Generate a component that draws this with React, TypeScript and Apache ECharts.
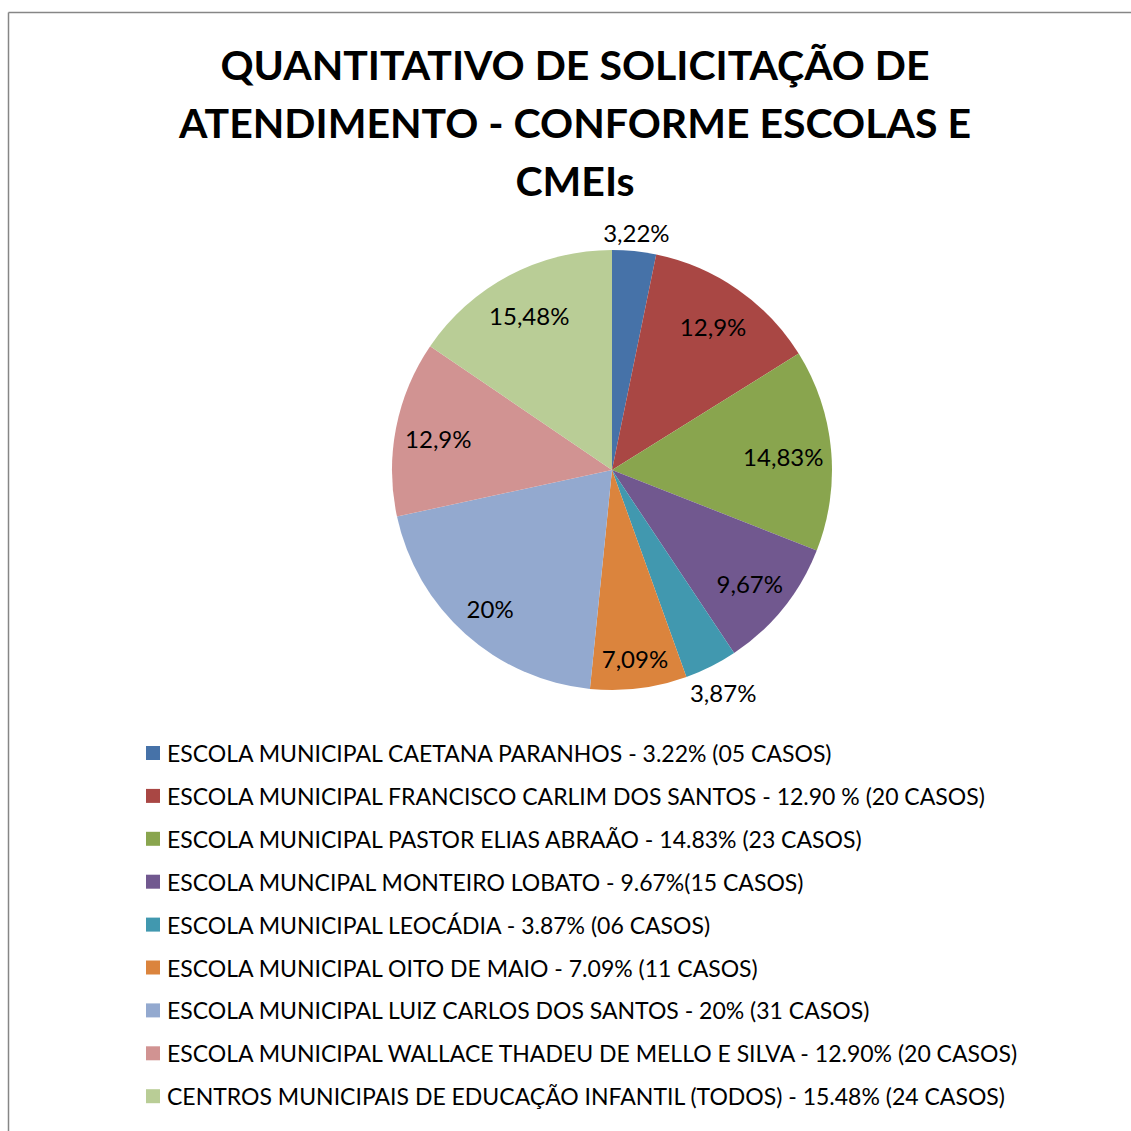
import React, { useEffect, useRef } from "react";
import * as echarts from "echarts";

const categories = [
  "ESCOLA MUNICIPAL CAETANA PARANHOS - 3.22% (05 CASOS)",
  "ESCOLA MUNICIPAL FRANCISCO CARLIM DOS SANTOS - 12.90 % (20 CASOS)",
  "ESCOLA MUNICIPAL PASTOR ELIAS ABRAÃO - 14.83% (23 CASOS)",
  "ESCOLA MUNCIPAL MONTEIRO LOBATO - 9.67%(15 CASOS)",
  "ESCOLA MUNICIPAL LEOCÁDIA - 3.87% (06 CASOS)",
  "ESCOLA MUNICIPAL OITO DE MAIO - 7.09% (11 CASOS)",
  "ESCOLA MUNICIPAL LUIZ CARLOS DOS SANTOS - 20% (31 CASOS)",
  "ESCOLA MUNICIPAL WALLACE THADEU DE MELLO E SILVA - 12.90% (20 CASOS)",
  "CENTROS MUNICIPAIS DE EDUCAÇÃO INFANTIL (TODOS) - 15.48% (24 CASOS)",
];
const values = [3.22, 12.9, 14.83, 9.67, 3.87, 7.09, 20, 12.9, 15.48];
const sliceLabels = ["3,22%", "12,9%", "14,83%", "9,67%", "3,87%", "7,09%", "20%", "12,9%", "15,48%"];
const colors = ["#4672A8", "#A94744", "#89A54E", "#71588F", "#4198AF", "#DB843D", "#93A9CF", "#D19392", "#B9CD96"];

const FONT = "Lato";

export default function App() {
  const ref = useRef<HTMLDivElement>(null);
  useEffect(() => {
    document.body.style.margin = "0";
    const chart = echarts.init(ref.current!, null, { renderer: "svg" });
    const center = [612, 470];
    const overlay = (radius: any, shown: number[], prefix: string) => ({
      type: "pie",
      silent: true,
      center,
      radius,
      startAngle: 90,
      clockwise: true,
      avoidLabelOverlap: false,
      itemStyle: { color: "rgba(0,0,0,0)", borderWidth: 0 },
      labelLine: { show: false },
      labelLayout: { dy: 2 },
      data: values.map((v, i) => ({
        name: prefix + i,
        value: v,
        label: {
          show: shown.indexOf(i) >= 0,
          position: "inside",
          formatter: sliceLabels[i],
          color: "#000",
          fontFamily: FONT,
          fontSize: 24,
        },
      })),
    });
    chart.setOption({
      animation: false,
      backgroundColor: "#fff",
      title: {
        text: "QUANTITATIVO DE SOLICITAÇÃO DE\nATENDIMENTO - CONFORME ESCOLAS E\nCMEIs",
        left: 575,
        top: 35,
        textAlign: "center",
        padding: 0,
        textStyle: {
          fontFamily: FONT,
          fontWeight: "bold",
          fontSize: 41,
          lineHeight: 58,
          color: "#000",
        },
      },
      legend: {
        orient: "vertical",
        left: 146,
        top: 741,
        padding: 0,
        icon: "rect",
        itemWidth: 14,
        itemHeight: 14,
        itemGap: 18.9,
        selectedMode: false,
        data: categories,
        textStyle: { fontFamily: FONT, fontSize: 23, lineHeight: 24, color: "#000", padding: [0, 0, 0, 2] },
      },
      graphic: [
        { type: "line", shape: { x1: 8.5, y1: 12.5, x2: 1131, y2: 12.5 }, style: { stroke: "#868686", lineWidth: 1.5 } },
        { type: "line", shape: { x1: 8.5, y1: 12.5, x2: 8.5, y2: 1131 }, style: { stroke: "#868686", lineWidth: 1.5 } },
      ],
      series: [
        {
          type: "pie",
          silent: true,
          center,
          radius: 220,
          startAngle: 90,
          clockwise: true,
          label: { show: false },
          labelLine: { show: false },
          itemStyle: { borderWidth: 0 },
          data: values.map((v, i) => ({ name: categories[i], value: v, itemStyle: { color: colors[i] } })),
        },
        overlay([128, 220], [1, 3, 7, 8], "in"),
        overlay([118, 220], [2], "in3"),
        overlay([140, 220], [6], "in4"),
        overlay([150, 220], [5], "in2"),
        overlay([226, 250], [0], "out1"),
        overlay([232, 256], [4], "out2"),
      ],
    });
    return () => chart.dispose();
  }, []);
  return <div ref={ref} style={{ width: 1131, height: 1131 }} />;
}
